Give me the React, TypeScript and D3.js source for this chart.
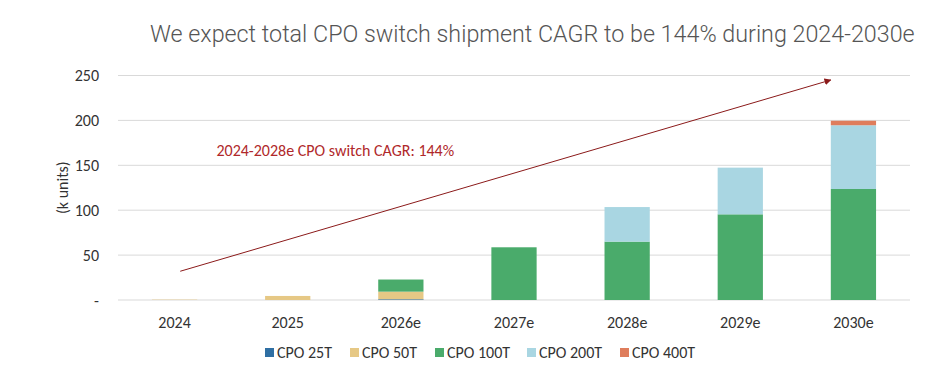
import React from "react";
import * as d3 from "d3";

const categories = ["2024", "2025", "2026e", "2027e", "2028e", "2029e", "2030e"];
const seriesNames = ["CPO 25T", "CPO 50T", "CPO 100T", "CPO 200T", "CPO 400T"];
const cpo25T = [0, 0, 0.8, 0, 0, 0, 0];
const cpo50T = [0.4, 4.5, 8.5, 0, 0, 0, 0];
const cpo100T = [0, 0, 13.5, 58.7, 65, 95.4, 123.6];
const cpo200T = [0, 0, 0, 0, 38.5, 52, 71];
const cpo400T = [0, 0, 0, 0, 0, 0, 5];
const seriesColors = ["#2f6fa3", "#e6c885", "#4aab6b", "#a9d6e2", "#df7d5c"];
const yTicks = [0, 50, 100, 150, 200, 250];
const yTickLabels = ["-", "50", "100", "150", "200", "250"];

const title = "We expect total CPO switch shipment CAGR to be 144% during 2024-2030e";
const annotation = "2024-2028e CPO switch CAGR: 144%";
const yLabel = "(k units)";
// arrow endpoints in data space: [category, band offset fraction, value]
const arrowStart = { cat: "2024", off: 0.05, value: 32 };
const arrowEnd = { cat: "2030e", off: -0.2, value: 245 };
const annotationPos = { cat: "2024", off: 0.37, value: 167 };

const W = 933;
const H = 385;
const margin = { left: 118, right: 23, top: 75.5, bottom: 85 };

export default function App() {
  const x = d3
    .scaleBand<string>()
    .domain(categories)
    .range([margin.left, W - margin.right])
    .paddingInner(0.6)
    .paddingOuter(0.3);
  const y = d3.scaleLinear().domain([0, 250]).range([H - margin.bottom, margin.top]);

  const rows = categories.map((c, i) => ({
    cat: c,
    s0: cpo25T[i],
    s1: cpo50T[i],
    s2: cpo100T[i],
    s3: cpo200T[i],
    s4: cpo400T[i],
  }));
  const keys = ["s0", "s1", "s2", "s3", "s4"];
  const stacked = d3.stack<any>().keys(keys)(rows);

  const step = x.step();
  const cx = (cat: string, off: number) => (x(cat) as number) + x.bandwidth() / 2 + off * step;

  const ax1 = cx(arrowStart.cat, arrowStart.off);
  const ay1 = y(arrowStart.value);
  const ax2 = cx(arrowEnd.cat, arrowEnd.off);
  const ay2 = y(arrowEnd.value);

  const font = "Calibri, Carlito, 'Open Sans', sans-serif";
  const fs = 16;
  const legendX = [265, 350, 435, 527, 620];

  return (
    <svg width={W} height={H} style={{ position: "absolute", left: 0, top: 0, background: "#fff" }}>
      <defs>
        <marker id="ah" viewBox="0 0 10 10" refX="9" refY="5" markerWidth="7" markerHeight="7" orient="auto">
          <path d="M0,0 L10,5 L0,10 z" fill="#8b1a1a" />
        </marker>
      </defs>
      <text x={150} y={42} fontFamily="Roboto, sans-serif" fontWeight={300} fontSize={23.3} fill="#555">
        {title}
      </text>
      {yTicks.map((t, i) => (
        <g key={t}>
          <line x1={margin.left} x2={W - margin.right} y1={y(t)} y2={y(t)} stroke="#d9d9d9" strokeWidth={1} />
          <text x={99} y={y(t)} dy="0.35em" textAnchor="end" fontFamily={font} fontSize={fs} fill="#333">
            {yTickLabels[i]}
          </text>
        </g>
      ))}
      <text
        transform={`translate(62,${y(125)}) rotate(-90)`}
        textAnchor="middle"
        dy="0.35em"
        fontFamily={font}
        fontSize={fs}
        fill="#333"
      >
        {yLabel}
      </text>
      {stacked.map((s, si) =>
        s.map((d: any, i: number) => {
          const h = y(d[0]) - y(d[1]);
          if (h <= 0) return null;
          return (
            <rect
              key={`${si}-${i}`}
              x={x(d.data.cat)}
              width={x.bandwidth()}
              y={y(d[1])}
              height={h}
              fill={seriesColors[si]}
            />
          );
        })
      )}
      {categories.map((c) => (
        <text
          key={c}
          x={(x(c) as number) + x.bandwidth() / 2}
          y={328}
          textAnchor="middle"
          fontFamily={font}
          fontSize={fs}
          fill="#333"
        >
          {c}
        </text>
      ))}
      <line x1={ax1} y1={ay1} x2={ax2} y2={ay2} stroke="#8b1a1a" strokeWidth={1} markerEnd="url(#ah)" />
      <text
        x={cx(annotationPos.cat, annotationPos.off)}
        y={y(annotationPos.value)}
        dy="0.35em"
        fontFamily={font}
        fontSize={fs}
        fill="#b0282a"
      >
        {annotation}
      </text>
      {seriesNames.map((n, i) => (
        <g key={n}>
          <rect x={legendX[i]} y={348} width={9} height={9} fill={seriesColors[i]} />
          <text x={legendX[i] + 12} y={352.5} dy="0.35em" fontFamily={font} fontSize={fs} fill="#333">
            {n}
          </text>
        </g>
      ))}
    </svg>
  );
}
